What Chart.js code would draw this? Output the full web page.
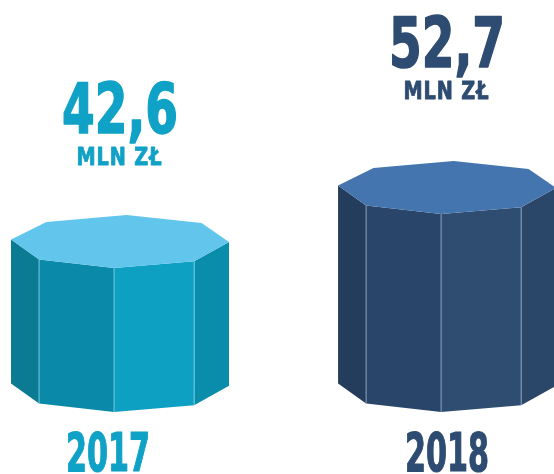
<!DOCTYPE html>
<html>
<head>
<meta charset="utf-8">
<script src="https://cdn.jsdelivr.net/npm/chart.js@4"></script>
<style>
  body { margin: 0; background: #fff; }
  #wrap { width: 554px; height: 474px; position: relative; }
</style>
</head>
<body>
<div id="wrap"><canvas id="myChart"></canvas></div>
<script>
// dane
const years = ['2017', '2018'];
const values = [42.6, 52.7];
const unit = 'MLN ZŁ';
const yMin = 15.7;
const yMax = 92.7;

// kolory: tekst, gora, sciany (lewa, przod-lewa, przod-prawa, prawa), krawedzie
const textColors = ['#10a2c6', '#2e4c72'];
const topColors = ['#62c5eb', '#4475af'];
const faceColors = [
  ['#0b7a93', '#0a89a8', '#0da0c3', '#0a8cab'],
  ['#243d5d', '#29466a', '#2f4d70', '#2a4669']
];
const edgeColors = ['rgba(150, 220, 240, 0.75)', 'rgba(165, 185, 215, 0.75)'];

const FONT = "'DejaVu Sans Condensed', 'DejaVu Sans', sans-serif";

// osmiokat (wsp. wzgledem srodka, w jednostkach polowy szerokosci)
const ring = [
  [-1, -0.262],
  [-0.743, -0.078],
  [-0.055, 0],
  [0.68, -0.062],
  [1, -0.24],
  [0.748, -0.413],
  [0.06, -0.486],
  [-0.675, -0.422]
];

// tekst sciesniony w poziomie do zadanej szerokosci
function narrowText(c, text, x, y, size, width, spacing, stroke) {
  spacing = spacing || 0;
  c.save();
  c.font = 'bold ' + size + 'px ' + FONT;
  c.letterSpacing = spacing + 'px';
  const w = c.measureText(text).width - spacing;
  const sx = width / w;
  c.translate(x, y);
  c.scale(sx, 1);
  c.textAlign = 'center';
  c.textBaseline = 'alphabetic';
  c.fillText(text, spacing / 2, 0);
  if (stroke) {
    c.strokeStyle = c.fillStyle;
    c.lineWidth = stroke;
    c.lineJoin = 'round';
    c.strokeText(text, spacing / 2, 0);
  }
  c.restore();
}

const prismPlugin = {
  id: 'prism',
  afterDatasetsDraw(chart) {
    const c = chart.ctx;
    const meta = chart.getDatasetMeta(0);
    meta.data.forEach((bar, i) => {
      const h = bar.width / 2;
      const cx = bar.x, yt = bar.y, yb = bar.base;
      const pt = k => [cx + ring[k][0] * h, yt + ring[k][1] * h];
      const pb = k => [cx + ring[k][0] * h, yb + ring[k][1] * h];

      // sciany boczne
      for (let k = 0; k < 4; k++) {
        const a = pt(k), b = pt(k + 1), d = pb(k + 1), e = pb(k);
        c.beginPath();
        c.moveTo(a[0], a[1]);
        c.lineTo(b[0], b[1]);
        c.lineTo(d[0], d[1]);
        c.lineTo(e[0], e[1]);
        c.closePath();
        c.fillStyle = faceColors[i][k];
        c.fill();
      }
      // krawedzie
      c.strokeStyle = edgeColors[i];
      c.lineWidth = 1;
      for (let k = 1; k <= 3; k++) {
        const a = pt(k), e = pb(k);
        c.beginPath();
        c.moveTo(a[0], a[1]);
        c.lineTo(e[0], e[1]);
        c.stroke();
      }
      // gora
      c.beginPath();
      ring.forEach((_, k) => {
        const p = pt(k);
        if (k === 0) c.moveTo(p[0], p[1]); else c.lineTo(p[0], p[1]);
      });
      c.closePath();
      c.fillStyle = topColors[i];
      c.fill();

      // etykiety
      const numY = yt - (103 + 0.222 * (yb - yt));
      c.fillStyle = textColors[i];
      narrowText(c, values[i].toFixed(1).replace('.', ','), cx, numY, 69, 116, 0, 1.5);
      narrowText(c, unit, cx - 1, numY + 32, 24, 85, 1, 0.8);
      narrowText(c, years[i], cx - (i === 0 ? 12 : 0), 471, 53, 84, 0, 1.2);
    });
  }
};

const ctx = document.getElementById('myChart');

new Chart(ctx, {
  type: 'bar',
  data: {
    datasets: [{
      data: values.map((v, i) => ({ x: i, y: v })),
      backgroundColor: 'rgba(0,0,0,0)',
      barThickness: 218,
      base: yMin
    }]
  },
  options: {
    responsive: true,
    maintainAspectRatio: false,
    animation: false,
    layout: { padding: { left: 0, right: 0, top: 0, bottom: 62 } },
    plugins: {
      legend: { display: false },
      tooltip: { enabled: false }
    },
    scales: {
      x: {
        type: 'linear',
        display: false,
        offset: false,
        bounds: 'data',
        min: -0.367,
        max: 1.327
      },
      y: {
        display: false,
        min: yMin,
        max: yMax
      }
    }
  },
  plugins: [prismPlugin]
});
</script>
</body>
</html>
